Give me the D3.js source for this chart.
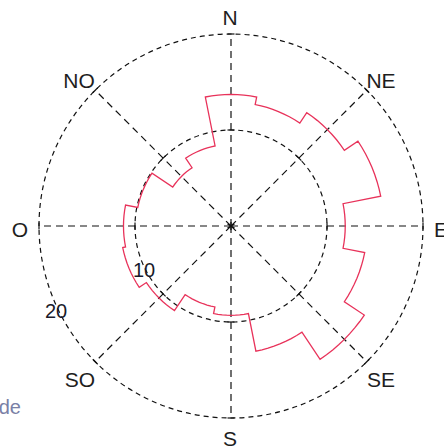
<!DOCTYPE html>
<html>
<head>
<meta charset="utf-8">
<script src="https://cdn.jsdelivr.net/npm/d3@7"></script>
<style>
  html, body { margin: 0; padding: 0; background: #fff; }
  svg { display: block; }
  text { font-family: "Liberation Sans", Arial, sans-serif; }
</style>
</head>
<body>
<script>
// Compass labels for the 8 axis lines
const axisLabels = ["N", "NE", "E", "SE", "S", "SO", "O", "NO"];
const axisAngles = [0, 45, 90, 135, 180, 225, 270, 315];
// 16 sectors (22.5° each), centred on the compass points, clockwise from N
const sectors = ["N","NNE","NE","ENE","E","ESE","SE","SSE","S","SSO","SO","OSO","O","ONO","NO","NNO"];
const sectorValues = [13.7, 12.9, 14.2, 15.9, 11.9, 14.2, 16.7, 13.3, 9.3, 8.6, 10.6, 11.5, 11.2, 9.9, 7.3, 8.5];
// radial rings / tick labels
const ringTicks = [10, 20];
const tickLabels = ["10", "20"];

const W = 444, H = 448;
const cx = 231, cy = 226;

const svg = d3.select("body").append("svg").attr("width", W).attr("height", H);
const r = d3.scaleLinear().domain([0, 20]).range([0, 192]);
const g = svg.append("g").attr("transform", `translate(${cx},${cy})`);
const rad = d => d * Math.PI / 180;

// rings
g.selectAll("circle.ring").data(ringTicks).join("circle")
  .attr("class", "ring")
  .attr("r", d => r(d))
  .attr("fill", "none").attr("stroke", "#111")
  .attr("stroke-width", 1.2).attr("stroke-dasharray", "5,4");

// axis lines (from centre outward)
g.selectAll("line.axis").data(axisAngles).join("line")
  .attr("class", "axis")
  .attr("x1", 0).attr("y1", 0)
  .attr("x2", a => r(20) * Math.sin(rad(a)))
  .attr("y2", a => -r(20) * Math.cos(rad(a)))
  .attr("stroke", "#111").attr("stroke-width", 1.2).attr("stroke-dasharray", "7,5");

// small tangential ticks where axes cross the rings
const tickData = [];
axisAngles.forEach(a => ringTicks.forEach(t => tickData.push({a, t})));
g.selectAll("line.tick").data(tickData).join("line")
  .attr("class", "tick")
  .attr("transform", d => `rotate(${d.a}) translate(0,${-r(d.t)})`)
  .attr("x1", -3.5).attr("x2", 3.5).attr("y1", 0).attr("y2", 0)
  .attr("stroke", "#111").attr("stroke-width", 1.2);

// sector outline (polar step histogram)
const step = 360 / sectors.length;
const pts = [];
sectorValues.forEach((v, i) => {
  const a0 = i * step - step / 2, a1 = i * step + step / 2;
  const n = 8;
  for (let k = 0; k <= n; k++) pts.push([rad(a0 + (a1 - a0) * k / n), v]);
});
const lineR = d3.lineRadial().angle(d => d[0]).radius(d => r(d[1])).curve(d3.curveLinearClosed);
g.append("path").attr("d", lineR(pts))
  .attr("fill", "none").attr("stroke", "#e8325a").attr("stroke-width", 1.3);

// centre asterisk
g.append("path").attr("d", d3.symbol().type(d3.symbolAsterisk).size(45)())
  .attr("fill", "none").attr("stroke", "#111").attr("stroke-width", 1.3);

// compass labels
const labelPos = {
  N: [230, 25, "middle"], NE: [381, 88, "middle"], E: [434, 237, "start"],
  SE: [381, 387, "middle"], S: [230, 446, "middle"], SO: [80, 387, "middle"],
  O: [20, 237, "middle"], NO: [79, 88, "middle"]
};
svg.selectAll("text.dir").data(axisLabels).join("text")
  .attr("class", "dir")
  .attr("x", d => labelPos[d][0]).attr("y", d => labelPos[d][1])
  .attr("text-anchor", d => labelPos[d][2])
  .attr("font-size", 21).attr("fill", "#1e1e1e")
  .text(d => d);

// ring value labels along the SW side
const ringLabelPos = [[144, 277], [56, 318]];
svg.selectAll("text.rl").data(tickLabels).join("text")
  .attr("class", "rl")
  .attr("x", (d, i) => ringLabelPos[i][0]).attr("y", (d, i) => ringLabelPos[i][1])
  .attr("text-anchor", "middle").attr("font-size", 20).attr("fill", "#1a1a2a")
  .text(d => d);

// clipped text fragment at bottom left
svg.append("text").attr("x", 21).attr("y", 414).attr("text-anchor", "end")
  .attr("font-size", 20).attr("fill", "#7a80a6").text("de");
</script>
</body>
</html>
